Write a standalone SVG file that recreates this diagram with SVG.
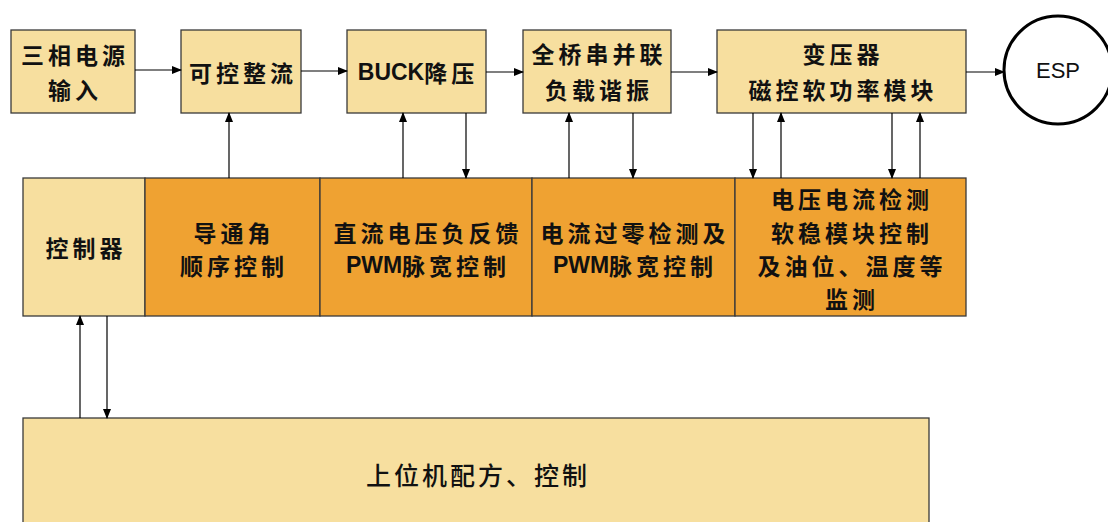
<svg xmlns="http://www.w3.org/2000/svg" width="1108" height="522" viewBox="0 0 1108 522">
<defs>
<marker id="ah" markerWidth="10" markerHeight="8" refX="9" refY="4" orient="auto" markerUnits="userSpaceOnUse">
<path d="M0,0 L10,4 L0,8 z" fill="#000"/>
</marker>
<style>
.lt{fill:#F7DF9F;stroke:#3a3a3a;stroke-width:1.3}
.or{fill:#EFA232;stroke:#3a3a3a;stroke-width:1.3}
.t{font-family:"Noto Sans CJK SC",sans-serif;font-size:23px;font-weight:bold;fill:#111;text-anchor:middle;dominant-baseline:central;letter-spacing:4px}
.tn{font-family:"Noto Sans CJK SC",sans-serif;font-size:25px;font-weight:500;fill:#111;text-anchor:middle;dominant-baseline:central;letter-spacing:3px}
.lat{font-family:"Liberation Sans",Arial,sans-serif;font-weight:bold;letter-spacing:0}
.c{stroke:#000;stroke-width:1.2;fill:none;marker-end:url(#ah)}
</style>
</defs>
<rect width="1108" height="522" fill="#fff"/>
<g id="n-input"><rect class="lt" x="11" y="30" width="124" height="83"/>
<text class="t" x="75" y="54">三相电源</text><text class="t" x="75" y="89">输入</text></g>
<g id="n-rect"><rect class="lt" x="181" y="30" width="120" height="83"/>
<text class="t" x="243" y="72">可控整流</text></g>
<g id="n-buck"><rect class="lt" x="347" y="30" width="139" height="83"/>
<text class="t" x="418" y="72"><tspan class="lat" font-size="23">BUCK</tspan>降压</text></g>
<g id="n-bridge"><rect class="lt" x="523" y="30" width="148" height="83"/>
<text class="t" x="599" y="53">全桥串并联</text><text class="t" x="599" y="89">负载谐振</text></g>
<g id="n-trans"><rect class="lt" x="717" y="30" width="249" height="83"/>
<text class="t" x="843" y="53">变压器</text><text class="t" x="843" y="89">磁控软功率模块</text></g>
<g id="n-esp"><circle cx="1058" cy="70" r="54" fill="#fff" stroke="#000" stroke-width="3"/>
<text x="1058" y="70" font-family="Liberation Sans,Arial,sans-serif" font-size="22" text-anchor="middle" dominant-baseline="central" fill="#111">ESP</text></g>
<g id="n-ctrl"><rect class="lt" x="23" y="178" width="122" height="138"/>
<text class="t" x="86" y="247">控制器</text></g>
<g id="n-angle"><rect class="or" x="145" y="178" width="175" height="138"/>
<text class="t" x="234" y="232">导通角</text><text class="t" x="234" y="265">顺序控制</text></g>
<g id="n-dcfb"><rect class="or" x="320" y="178" width="212" height="138"/>
<text class="t" x="428" y="232">直流电压负反馈</text><text class="t" x="428" y="265"><tspan class="lat" font-size="23">PWM</tspan>脉宽控制</text></g>
<g id="n-zero"><rect class="or" x="532" y="178" width="203" height="138"/>
<text class="t" x="635" y="232">电流过零检测及</text><text class="t" x="635" y="265"><tspan class="lat" font-size="23">PWM</tspan>脉宽控制</text></g>
<g id="n-mon"><rect class="or" x="735" y="178" width="231" height="138"/>
<text class="t" x="852" y="198">电压电流检测</text><text class="t" x="852" y="232">软稳模块控制</text><text class="t" x="852" y="265">及油位、温度等</text><text class="t" x="852" y="298">监测</text></g>
<g id="n-host"><rect class="lt" x="23" y="418" width="906" height="120"/>
<text class="tn" x="478" y="474">上位机配方、控制</text></g>
<g id="connectors">
<line class="c" x1="135" y1="70" x2="181" y2="70"/>
<line class="c" x1="301" y1="71" x2="347" y2="71"/>
<line class="c" x1="486" y1="72" x2="523" y2="72"/>
<line class="c" x1="671" y1="72" x2="717" y2="72"/>
<line class="c" x1="966" y1="72" x2="1004" y2="72"/>
<line class="c" x1="229" y1="178" x2="229" y2="113"/>
<line class="c" x1="403" y1="178" x2="403" y2="113"/>
<line class="c" x1="466" y1="113" x2="466" y2="178"/>
<line class="c" x1="569" y1="178" x2="569" y2="113"/>
<line class="c" x1="633" y1="113" x2="633" y2="178"/>
<line class="c" x1="753" y1="113" x2="753" y2="178"/>
<line class="c" x1="781" y1="178" x2="781" y2="113"/>
<line class="c" x1="892" y1="113" x2="892" y2="178"/>
<line class="c" x1="920" y1="178" x2="920" y2="113"/>
<line class="c" x1="80" y1="418" x2="80" y2="316"/>
<line class="c" x1="107" y1="316" x2="107" y2="418"/>
</g>
</svg>
